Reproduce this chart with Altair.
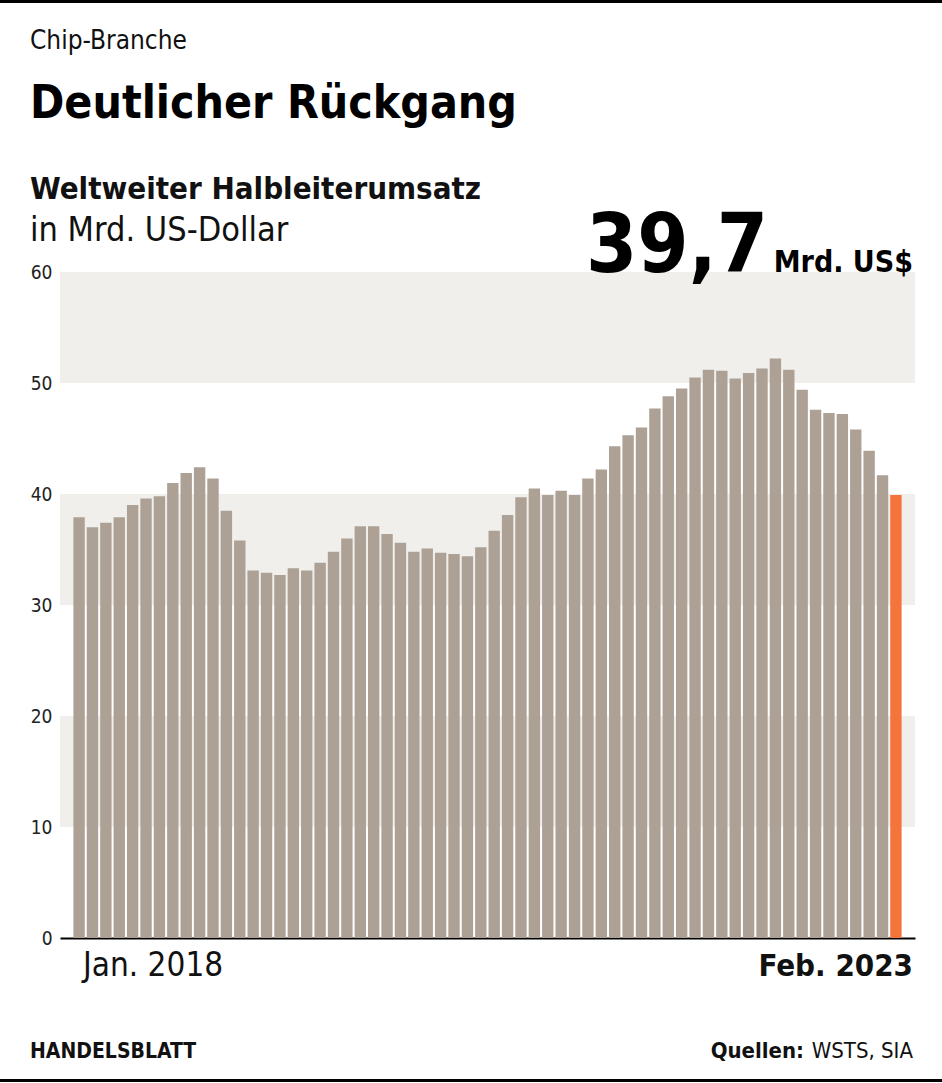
import altair as alt
import pandas as pd

# ---- data ----
months = [f"{y}-{m:02d}" for y in range(2018, 2024) for m in range(1, 13)][:62]
values = [
    37.9, 37.0, 37.4, 37.9, 39.0, 39.6, 39.8, 41.0, 41.9, 42.4, 41.4, 38.5,   # 2018
    35.8, 33.1, 32.9, 32.7, 33.3, 33.1, 33.8, 34.8, 36.0, 37.1, 37.1, 36.4,   # 2019
    35.6, 34.8, 35.1, 34.7, 34.6, 34.4, 35.2, 36.7, 38.1, 39.7, 40.5, 39.9,   # 2020
    40.3, 39.9, 41.4, 42.2, 44.3, 45.3, 46.0, 47.7, 48.8, 49.5, 50.5, 51.2,   # 2021
    51.1, 50.4, 50.9, 51.3, 52.2, 51.2, 49.4, 47.6, 47.3, 47.2, 45.8, 43.9,   # 2022
    41.7, 39.9,                                                               # 2023
]
band_lo = [10, 30, 50]
band_hi = [20, 40, 60]
y_ticks = [0, 10, 20, 30, 40, 50, 60]

kicker = "Chip-Branche"
headline = "Deutlicher Rückgang"
subtitle1 = "Weltweiter Halbleiterumsatz"
subtitle2 = "in Mrd. US-Dollar"
big_value = "39,7"
big_unit = "Mrd. US$"
first_label = "Jan. 2018"
last_label = "Feb. 2023"
brand = "HANDELSBLATT"
source_bold = "Quellen:"
source_text = "WSTS, SIA"

W, H = 855, 666
BAR = "#ada195"
HIGHLIGHT = "#f4743b"
BAND = "#f0efec"
COND = "DejaVu Sans Condensed, DejaVu Sans, sans-serif"

df = pd.DataFrame({"month": months, "value": values})
df["kind"] = ["latest" if i == len(months) - 1 else "normal" for i in range(len(months))]
bands = pd.DataFrame({"lo": band_lo, "hi": band_hi})

yscale = alt.Scale(domain=[0, 60], nice=False, zero=True)

band_layer = alt.Chart(bands).mark_rect(color=BAND).encode(
    x=alt.value(0), x2=alt.value(W),
    y=alt.Y("lo:Q", scale=yscale,
            axis=alt.Axis(values=y_ticks, title=None, domain=False, ticks=False, grid=False,
                          labelFontSize=19, labelFont=COND, labelColor="#222222", labelPadding=8)),
    y2="hi:Q",
)

bars = alt.Chart(df).mark_bar().encode(
    x=alt.X("month:O", sort=months,
            scale=alt.Scale(paddingInner=0.15, paddingOuter=1),
            axis=alt.Axis(title=None, labels=False, ticks=False, grid=False,
                          domain=True, domainColor="#000000", domainWidth=2)),
    y=alt.Y("value:Q", scale=yscale),
    color=alt.Color("kind:N", scale=alt.Scale(domain=["normal", "latest"], range=[BAR, HIGHLIGHT]),
                    legend=None),
)


def txt(s, x, y, size, weight="normal", align="left", color="#111111"):
    return alt.Chart(pd.DataFrame({"t": [s]})).mark_text(
        align=align, baseline="alphabetic", fontSize=size, font=COND,
        fontWeight=weight, color=color,
    ).encode(x=alt.value(x), y=alt.value(y), text="t:N")


def hrule(y, x0, x1, w):
    return alt.Chart(pd.DataFrame({"a": [0]})).mark_rule(color="#000000", strokeWidth=w).encode(
        x=alt.value(x0), x2=alt.value(x1), y=alt.value(y))


texts = [
    txt(kicker, -30, -223, 26),
    txt(headline, -30, -154, 46, weight="bold", color="#000000"),
    txt(subtitle1, -30, -73, 31, weight="bold"),
    txt(subtitle2, -30, -31, 34),
    txt(big_value, 708, 0, 82, weight="bold", align="right", color="#000000"),
    txt(big_unit, 853, 0, 30, weight="bold", align="right", color="#000000"),
    txt(first_label, 23, 704, 33),
    txt(last_label, 853, 704, 31, weight="bold", align="right"),
    txt(brand, -30, 786, 21, weight="bold"),
    txt(source_text, 853, 786, 22, align="right"),
    txt(source_bold, 744, 786, 22, weight="bold", align="right"),
]

chart = alt.layer(
    band_layer, bars, *texts,
    hrule(-270.5, -60, 882, 3),
    hrule(808.5, -60, 882, 3),
).properties(
    width=W, height=H,
    padding={"left": 60, "top": 272, "right": 27, "bottom": 145},
    autosize=alt.AutoSizeParams(type="none"),
    background="#ffffff",
).configure_view(stroke=None)

chart.save("out.html", embed_options={"renderer": "svg", "actions": False})
